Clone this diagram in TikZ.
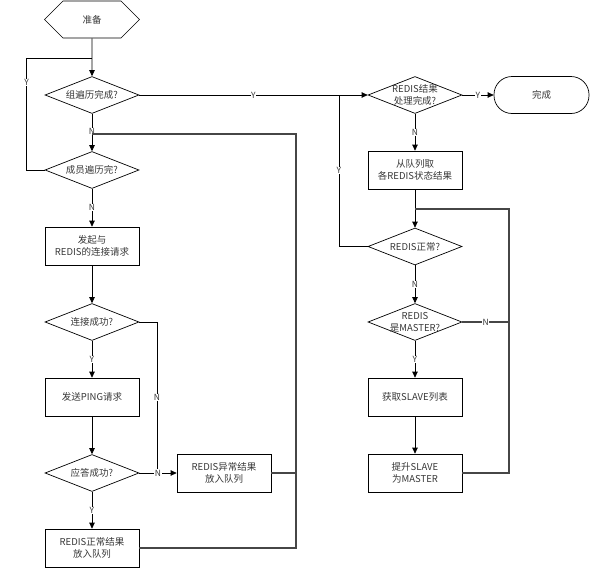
\documentclass[tikz,border=0pt]{standalone}
\usepackage{fontspec}
\setmainfont{Noto Sans CJK SC}
\definecolor{textgray}{RGB}{55,55,55}
\definecolor{loopgray}{RGB}{70,70,70}
\usetikzlibrary{positioning}
\usetikzlibrary{arrows.meta}
\usetikzlibrary{shapes.geometric}
\usetikzlibrary{shapes.symbols}
\tikzset{
  every picture/.style={/utils/exec={\fontsize{9.5}{12}\selectfont}},
  box/.style={draw, rectangle, minimum width=94pt, minimum height=38pt, inner sep=0pt, align=center, text=textgray, line width=0.7pt},
  decision/.style={draw, diamond, minimum width=94pt, minimum height=37pt, inner sep=0pt, line width=0.7pt},
  prepbox/.style={draw, signal, signal to=east and west, minimum width=95pt, minimum height=37pt, inner sep=0pt, text=textgray, line width=0.7pt},
  endbox/.style={draw, rectangle, rounded corners=18pt, minimum width=95pt, minimum height=37pt, text=textgray, line width=0.7pt},
  yn/.style={fill=white, inner sep=0.6pt, font=\fontsize{8.5}{9}\selectfont, text=textgray},
  flow/.style={-{Triangle[length=6pt,width=5.5pt]}, line width=0.7pt},
  line/.style={line width=0.7pt},
  back/.style={line width=1.1pt, draw=loopgray},
}

\begin{document}
\begin{tikzpicture}[x=1pt, y=1pt]
  \useasboundingbox (0,0) rectangle (590,-568);

  % left column
  \node [prepbox] (prep) at (92,-19.5) {准备};
  \node [decision, label={[text=textgray]center:组遍历完成?}] (grpdone) at (92,-95) {};
  \node [decision, label={[text=textgray]center:成员遍历完?}] (memdone) at (92,-170) {};
  \node [box] (connect) at (92,-246) {发起与\\REDIS的连接请求};
  \node [decision, label={[text=textgray]center:连接成功?}] (connok) at (92,-322) {};
  \node [box] (ping) at (92,-397) {发送PING请求};
  \node [decision, label={[text=textgray]center:应答成功?}] (pingok) at (92,-473) {};
  \node [box] (goodq) at (92,-548) {REDIS正常结果\\放入队列};
  \node [box] (badq) at (224,-473) {REDIS异常结果\\放入队列};

  % right column
  \node [decision, label={[text=textgray, align=center]center:REDIS结果\\处理完成?}] (resdone) at (415,-95) {};
  \node [endbox] (finish) at (541.5,-95) {完成};
  \node [box] (fetch) at (415,-170) {从队列取\\各REDIS状态结果};
  \node [decision, label={[text=textgray]center:REDIS正常?}] (redisok) at (415,-246.5) {};
  \node [decision, label={[text=textgray, align=center]center:REDIS\\是MASTER?}] (ismaster) at (415,-322) {};
  \node [box] (slaves) at (415,-397) {获取SLAVE列表};
  \node [box] (promote) at (415,-473) {提升SLAVE\\为MASTER};

  \coordinate (topjoin) at (92,-58);
  \coordinate (memjoin) at (92,-134);
  \coordinate (nbend) at (157,-473);
  \coordinate (leftback) at (296,-134);
  \coordinate (resjoin) at (339,-95);
  \coordinate (fetchjoin) at (415,-209);
  \coordinate (rightback) at (509,-209);

  \draw [flow] (prep) -- (grpdone);
  \draw [line] (memdone.west) -- ++(-18,0) |- node [yn, pos=0.39] {Y} (topjoin);
  \draw [flow] (grpdone) -- node [yn, pos=0.47] {N} (memdone);
  \draw [flow] (grpdone) -- node [yn] {Y} (resdone);
  \draw [flow] (memdone) -- node [yn] {N} (connect);
  \draw [flow] (connect) -- (connok);
  \draw [flow] (connok) -- node [yn] {Y} (ping);
  \draw [line] (connok.east) -| node [yn, pos=0.75] {N} (nbend);
  \draw [flow] (ping) -- (pingok);
  \draw [flow] (pingok) -- node [yn] {N} (badq);
  \draw [flow] (pingok) -- node [yn] {Y} (goodq);
  \draw [back] (goodq.east) -| (leftback) -- (memjoin);
  \draw [back] (badq.east) -- (badq.east -| leftback);

  \draw [flow] (resdone) -- node [yn] {Y} (finish);
  \draw [flow] (resdone) -- node [yn] {N} (fetch);
  \draw [flow] (fetch) -- (redisok);
  \draw [line] (redisok.west) -| node [yn, pos=0.75] {Y} (resjoin);
  \draw [flow] (redisok) -- node [yn] {N} (ismaster);
  \draw [back] (ismaster.east) -- node [yn] {N} (ismaster.east -| rightback);
  \draw [flow] (ismaster) -- node [yn] {Y} (slaves);
  \draw [flow] (slaves) -- (promote);
  \draw [back] (promote.east) -| (rightback) -- (fetchjoin);
\end{tikzpicture}
\end{document}
